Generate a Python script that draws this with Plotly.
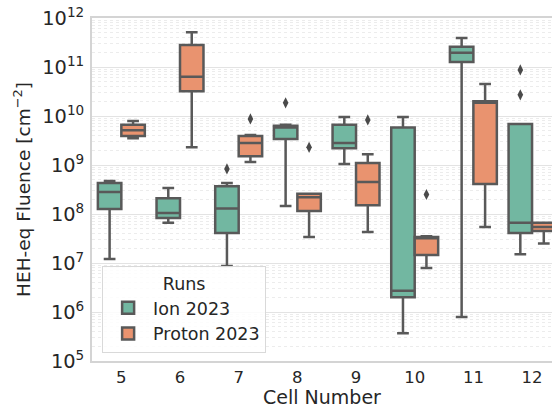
import plotly.graph_objects as go

cells = ["5", "6", "7", "8", "9", "10", "11", "12"]
series_names = ["Ion 2023", "Proton 2023"]

# Ion 2023 box statistics per cell
ion_lo  = [1.2e7, 6.6e7, 8.7e6, 1.45e8, 1.05e9, 3.7e5, 7.9e5, 1.5e7]
ion_q1  = [1.26e8, 8.3e7, 4.1e7, 3.4e9, 2.2e9, 2.0e6, 1.26e11, 4.1e7]
ion_med = [2.8e8, 1.05e8, 1.3e8, 5.8e9, 2.8e9, 2.7e6, 1.95e11, 6.6e7]
ion_q3  = [4.3e8, 2.1e8, 3.7e8, 6.3e9, 6.6e9, 5.8e9, 2.6e11, 6.9e9]
ion_hi  = [4.7e8, 3.4e8, 4.3e8, 6.6e9, 9.5e9, 9.5e9, 3.9e11, 6.9e9]
ion_out_cell = ["7", "8", "12", "12"]
ion_out_val  = [8.3e8, 1.86e10, 8.7e10, 2.7e10]

# Proton 2023 box statistics per cell
pro_lo  = [3.5e9, 2.3e9, 1.15e9, 3.4e7, 4.3e7, 7.9e6, 5.4e7, 2.5e7]
pro_q1  = [3.9e9, 3.2e10, 1.5e9, 1.15e8, 1.5e8, 1.45e7, 4.1e8, 4.5e7]
pro_med = [5.1e9, 6.3e10, 2.8e9, 2.2e8, 4.5e8, 3.2e7, 1.86e10, 5.4e7]
pro_q3  = [6.6e9, 2.8e11, 3.9e9, 2.6e8, 1.1e9, 3.4e7, 2.0e10, 6.6e7]
pro_hi  = [7.9e9, 5.1e11, 4.1e9, 2.6e8, 1.66e9, 3.5e7, 4.5e10, 6.6e7]
pro_out_cell = ["7", "8", "9", "10"]
pro_out_val  = [8.7e9, 2.3e9, 8.3e9, 2.5e8]

colors = ["#72b7a1", "#e9936f"]
line_col = "#595959"
offsets = [-0.2, 0.2]

stats = [
    (ion_lo, ion_q1, ion_med, ion_q3, ion_hi, ion_out_cell, ion_out_val),
    (pro_lo, pro_q1, pro_med, pro_q3, pro_hi, pro_out_cell, pro_out_val),
]

fig = go.Figure()
for k, (lo, q1, med, q3, hi, oc, ov) in enumerate(stats):
    pos = [i + offsets[k] for i in range(len(cells))]
    fig.add_trace(go.Box(
        x=pos, q1=q1, median=med, q3=q3, lowerfence=lo, upperfence=hi,
        name=series_names[k], boxpoints=False, width=0.4, whiskerwidth=0.5,
        fillcolor=colors[k], line=dict(color=line_col, width=2.5),
    ))
    opos = [cells.index(c) + offsets[k] for c in oc]
    fig.add_trace(go.Scatter(
        x=opos, y=ov, mode="markers", showlegend=False,
        marker=dict(symbol="diamond-tall", size=8, color="#4a4a4a"),
    ))

font = "DejaVu Sans"
fig.update_layout(
    width=552, height=408,
    margin=dict(l=92, r=0, t=18, b=47),
    paper_bgcolor="white", plot_bgcolor="white",
    font=dict(family=font, size=16, color="#262626"),
    showlegend=True,
    legend=dict(
        title=dict(text="Runs", side="top center", font=dict(size=17.5)),
        x=0.022, y=0.023, xanchor="left", yanchor="bottom",
        bgcolor="rgba(255,255,255,0.85)", bordercolor="#d9d9d9", borderwidth=1,
        font=dict(size=17.5), tracegroupgap=2, itemwidth=40,
    ),
    xaxis=dict(
        range=[-0.5, 7.34], tickmode="array", tickvals=list(range(len(cells))),
        ticktext=cells, showgrid=False, zeroline=False, automargin=False,
        showline=True, mirror=True, linecolor="#d4d4d4", linewidth=1.5,
        title=dict(text="Cell Number", font=dict(size=19), standoff=9),
        ticks="", tickfont=dict(size=16.5), ticklabelstandoff=0,
        ticklabeloverflow="allow",
    ),
    yaxis=dict(
        type="log", range=[5, 12], dtick=1, exponentformat="power",
        showgrid=True, gridcolor="#e3e3e3", gridwidth=1, automargin=False,
        minor=dict(dtick="D1", showgrid=True, gridcolor="#ececec", griddash="dot", gridwidth=1),
        showline=True, linecolor="#d4d4d4", linewidth=1.5, zeroline=False,
        title=dict(text="HEH-eq Fluence [cm<sup>−2</sup>]", font=dict(size=18.5), standoff=7),
        ticks="", tickfont=dict(size=15.5), ticklabelstandoff=3,
        ticklabeloverflow="allow",
    ),
)

fig.write_html("out.html", config={"displayModeBar": False},
               post_script="document.body.style.margin='0';")
